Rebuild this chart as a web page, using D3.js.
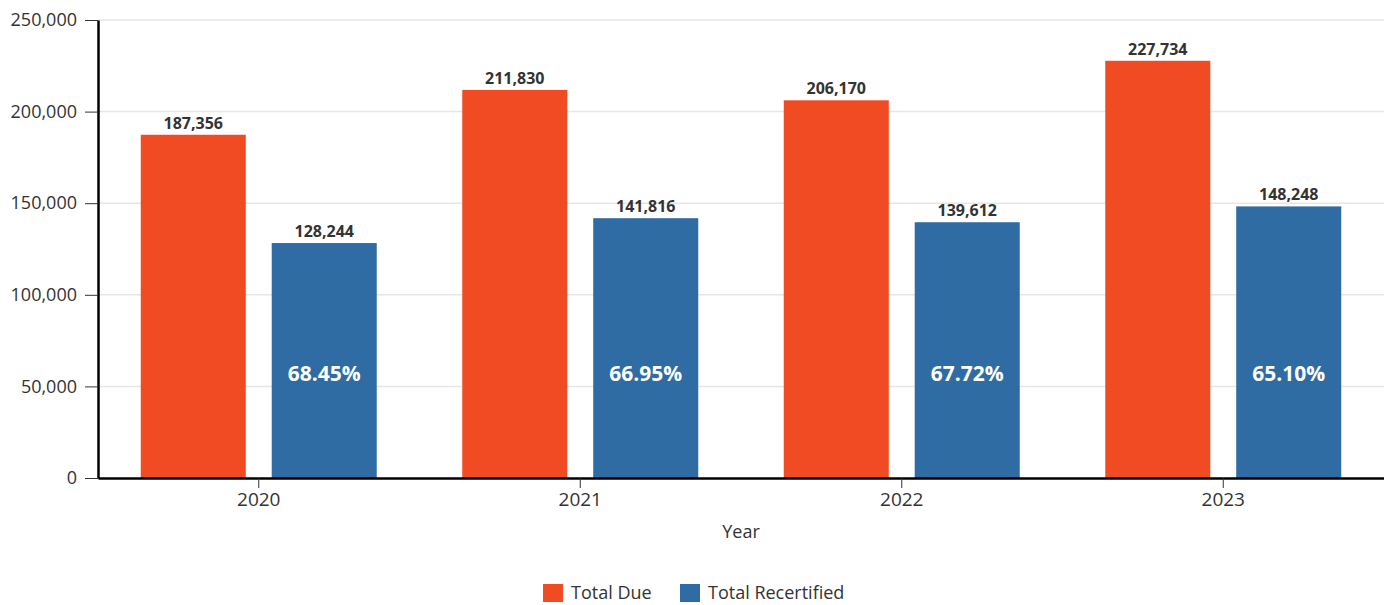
<!DOCTYPE html>
<html>
<head>
<meta charset="utf-8">
<script src="https://cdn.jsdelivr.net/npm/d3@7"></script>
<style>
  html, body { margin: 0; padding: 0; background: #fff; }
  text { font-family: "Open Sans", "Noto Sans", sans-serif; }
</style>
</head>
<body>
<div id="chart"></div>
<script>
'use strict';

var years = ['2020', '2021', '2022', '2023'];
var series = ['Total Due', 'Total Recertified'];
var totalDue = [187356, 211830, 206170, 227734];
var totalRecertified = [128244, 141816, 139612, 148248];
var rateLabels = ['68.45%', '66.95%', '67.72%', '65.10%'];
var yTicks = [0, 50000, 100000, 150000, 200000, 250000];

var W = 1384, H = 605;
var margin = { top: 20, right: 0, bottom: 127, left: 98 };
var colors = { 'Total Due': '#f04b23', 'Total Recertified': '#2e6ca3' };

var svg = d3.select('#chart')
    .append('svg')
    .attr('width', W)
    .attr('height', H);

var x0 = d3.scaleBand()
    .domain(years)
    .range([margin.left, W - margin.right])
    .paddingInner(0.266)
    .paddingOuter(0.133);

var x1 = d3.scaleBand()
    .domain(series)
    .range([0, x0.bandwidth()])
    .paddingInner(0.198);

var y = d3.scaleLinear()
    .domain([0, 250000])
    .range([H - margin.bottom, margin.top]);

var fmt = d3.format(',');

// grid lines
svg.append('g')
    .selectAll('line')
    .data(yTicks.slice(1))
    .enter().append('line')
    .attr('x1', margin.left)
    .attr('x2', W - margin.right)
    .attr('y1', function(d) { return y(d); })
    .attr('y2', function(d) { return y(d); })
    .attr('stroke', '#e6e6e6')
    .attr('stroke-width', 1.5);

// bars
var rows = years.map(function(yr, i) {
    return { year: yr, i: i, values: [
        { key: 'Total Due', value: totalDue[i] },
        { key: 'Total Recertified', value: totalRecertified[i] }
    ] };
});

var groups = svg.append('g')
    .selectAll('g')
    .data(rows)
    .enter().append('g')
    .attr('transform', function(d) { return 'translate(' + x0(d.year) + ',0)'; });

groups.selectAll('rect')
    .data(function(d) { return d.values; })
    .enter().append('rect')
    .attr('x', function(d) { return x1(d.key); })
    .attr('y', function(d) { return y(d.value); })
    .attr('width', x1.bandwidth())
    .attr('height', function(d) { return y(0) - y(d.value); })
    .attr('fill', function(d) { return colors[d.key]; });

groups.selectAll('text.val')
    .data(function(d) { return d.values; })
    .enter().append('text')
    .attr('class', 'val')
    .attr('x', function(d) { return x1(d.key) + x1.bandwidth() / 2; })
    .attr('y', function(d) { return y(d.value) - 6; })
    .attr('text-anchor', 'middle')
    .attr('font-size', '16px')
    .attr('font-weight', 'bold')
    .attr('fill', '#333')
    .text(function(d) { return fmt(d.value); });

// percentage inside recertified bars
groups.append('text')
    .attr('x', x1('Total Recertified') + x1.bandwidth() / 2)
    .attr('y', y(57000))
    .attr('dy', '0.35em')
    .attr('text-anchor', 'middle')
    .attr('font-size', '21px')
    .attr('font-weight', 'bold')
    .attr('fill', '#fff')
    .text(function(d) { return rateLabels[d.i]; });

// y axis
var yAxis = svg.append('g')
    .attr('transform', 'translate(' + margin.left + ',0)')
    .call(d3.axisLeft(y).tickValues(yTicks).tickSizeInner(13).tickSizeOuter(0).tickPadding(8).tickFormat(fmt));
yAxis.select('.domain').attr('stroke', '#000').attr('stroke-width', 2.5);
yAxis.selectAll('.tick line').attr('stroke', '#333').attr('stroke-width', 1);
yAxis.selectAll('.tick text')
    .attr('font-size', '18px')
    .attr('fill', '#333')
    .style('font-family', '"Open Sans", sans-serif');

// x axis
var xAxis = svg.append('g')
    .attr('transform', 'translate(0,' + y(0) + ')')
    .call(d3.axisBottom(x0).tickSizeInner(10).tickSizeOuter(0).tickPadding(5));
xAxis.select('.domain').attr('stroke', '#000').attr('stroke-width', 2.5);
xAxis.selectAll('.tick line').attr('stroke', '#333');
xAxis.selectAll('.tick text')
    .attr('font-size', '19px')
    .attr('fill', '#333')
    .style('font-family', '"Open Sans", sans-serif');

svg.append('text')
    .attr('x', (margin.left + W - margin.right) / 2)
    .attr('y', 538)
    .attr('text-anchor', 'middle')
    .attr('font-size', '18px')
    .attr('fill', '#333')
    .text('Year');

// legend
var legendX = [543, 680];
var legend = svg.append('g')
    .selectAll('g')
    .data(series)
    .enter().append('g')
    .attr('transform', function(d, i) { return 'translate(' + legendX[i] + ',584)'; });

legend.append('rect')
    .attr('width', 20)
    .attr('height', 18)
    .attr('fill', function(d) { return colors[d]; });

legend.append('text')
    .attr('x', 28)
    .attr('y', 9)
    .attr('dy', '0.35em')
    .attr('font-size', '18px')
    .attr('fill', '#333')
    .text(function(d) { return d; });
</script>
</body>
</html>
